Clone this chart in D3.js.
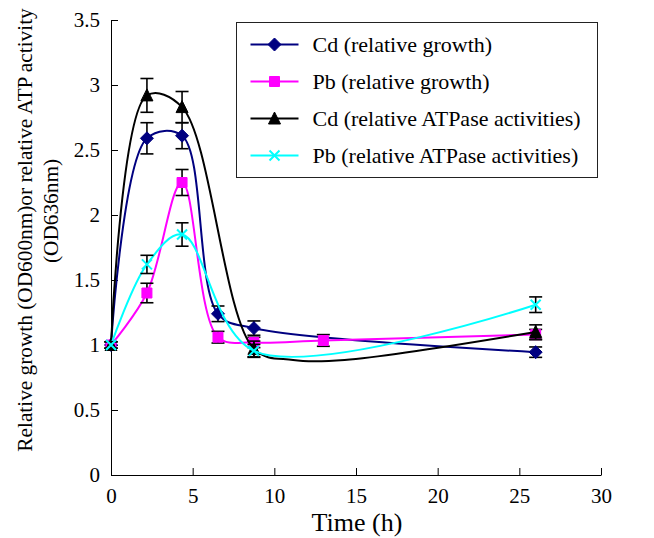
<!DOCTYPE html>
<html>
<head>
<meta charset="utf-8">
<script src="https://cdn.jsdelivr.net/npm/d3@7"></script>
<style>
  body { margin: 0; background: #fff; }
  svg { display: block; font-family: "Liberation Serif", "Times New Roman", serif; }
  .axis path, .axis line { stroke: #000; stroke-width: 1; }
  .axis text { font-size: 21px; fill: #000; font-family: "Liberation Serif", serif; }
</style>
</head>
<body>
<div id="viz"></div>
<script>
// values (time in axis units)
const cdGrowthTime = [0, 2.2, 4.35, 6.55, 8.75, 26];
const cdGrowth = [1.0, 2.59, 2.61, 1.24, 1.13, 0.945];
const cdGrowthErr = [0.025, 0.12, 0.1, 0.06, 0.055, 0.04];

const pbGrowthTime = [0, 2.2, 4.35, 6.55, 8.75, 13, 26];
const pbGrowth = [1.0, 1.4, 2.25, 1.06, 1.02, 1.035, 1.08];
const pbGrowthErr = [0.025, 0.075, 0.1, 0.045, 0.04, 0.045, 0.04];

// two unmarked bends of the black line (err null = no marker)
const cdAtpTime = [0, 2.2, 4.35, 8.75, 11.15, 14.3, 26];
const cdAtp = [1.0, 2.92, 2.83, 0.97, 0.885, 0.885, 1.1];
const cdAtpErr = [0.025, 0.13, 0.12, 0.06, null, null, 0.055];

const pbAtpTime = [0, 2.2, 4.35, 8.75, 26];
const pbAtp = [1.0, 1.62, 1.85, 0.955, 1.31];
const pbAtpErr = [0.025, 0.07, 0.09, 0.05, 0.06];

const xTicks = [0, 5, 10, 15, 20, 25, 30];
const yTicks = [0, 0.5, 1, 1.5, 2, 2.5, 3, 3.5];

const seriesNames = [
  "Cd (relative growth)",
  "Pb (relative growth)",
  "Cd (relative ATPase activities)",
  "Pb (relative ATPase activities)"
];

const W = 654, H = 538;
const svg = d3.select("#viz").append("svg").attr("width", W).attr("height", H);

const x = d3.scaleLinear().domain([0, 30]).range([111, 601]);
const y = d3.scaleLinear().domain([0, 3.5]).range([475, 20]);

const series = [
  { name: seriesNames[0], t: cdGrowthTime, v: cdGrowth, e: cdGrowthErr, color: "#000080", marker: "diamond" },
  { name: seriesNames[1], t: pbGrowthTime, v: pbGrowth, e: pbGrowthErr, color: "#ff00ff", marker: "square" },
  { name: seriesNames[2], t: cdAtpTime, v: cdAtp, e: cdAtpErr, color: "#000000", marker: "triangle" },
  { name: seriesNames[3], t: pbAtpTime, v: pbAtp, e: pbAtpErr, color: "#00ffff", marker: "cross" }
];

// axes
svg.append("g")
  .attr("class", "axis")
  .attr("transform", `translate(0,${y(0)})`)
  .call(d3.axisBottom(x).tickValues(xTicks).tickSizeInner(-7).tickSizeOuter(0).tickPadding(13).tickFormat(d => d))
  .attr("font-family", "Liberation Serif");

svg.append("g")
  .attr("class", "axis")
  .attr("transform", `translate(${x(0)},0)`)
  .call(d3.axisLeft(y).tickValues(yTicks).tickSizeInner(-7).tickSizeOuter(0).tickPadding(11).tickFormat(d => d))
  .attr("font-family", "Liberation Serif");

// axis titles
svg.append("text")
  .attr("x", (x(0) + x(30)) / 2 + 1)
  .attr("y", 531)
  .attr("text-anchor", "middle")
  .attr("font-size", 26)
  .text("Time (h)");

const yt = svg.append("g").attr("font-size", 21.3).attr("text-anchor", "middle");
yt.append("text")
  .attr("transform", "translate(32,230) rotate(-90)")
  .text("Relative growth (OD600nm)or relative ATP activity");
yt.append("text")
  .attr("transform", "translate(58,211) rotate(-90)")
  .text("(OD636nm)");

const line = d3.line()
  .x((d) => x(d.t))
  .y((d) => y(d.v))
  .curve(d3.curveCatmullRom.alpha(0.5));

function markerPath(type) {
  if (type === "diamond") return "M0,-6.5L6.5,0L0,6.5L-6.5,0Z";
  if (type === "square") return "M-5,-5H5V5H-5Z";
  if (type === "triangle") return "M0,-6.5L6,5.5H-6Z";
  return "M-5,-5L5,5M-5,5L5,-5";
}

function drawMarker(g, type, color) {
  const p = g.append("path").attr("d", markerPath(type));
  if (type === "cross") {
    p.attr("fill", "none").attr("stroke", color).attr("stroke-width", 2);
  } else {
    p.attr("fill", color).attr("stroke", color).attr("stroke-width", 1);
  }
}

const gPlot = svg.append("g");

series.forEach((s) => {
  const pts = s.t.map((t, i) => ({ t, v: s.v[i], e: s.e[i] }));
  const g = gPlot.append("g");

  g.append("path")
    .datum(pts)
    .attr("d", line)
    .attr("fill", "none")
    .attr("stroke", s.color)
    .attr("stroke-width", 2);

  const marked = pts.filter((d) => d.e !== null);

  const eb = g.selectAll("g.err").data(marked).enter().append("g")
    .attr("stroke", "#000").attr("stroke-width", 1.6);
  eb.append("line")
    .attr("x1", (d) => x(d.t)).attr("x2", (d) => x(d.t))
    .attr("y1", (d) => y(d.v + d.e)).attr("y2", (d) => y(d.v - d.e));
  eb.append("line")
    .attr("x1", (d) => x(d.t) - 6.5).attr("x2", (d) => x(d.t) + 6.5)
    .attr("y1", (d) => y(d.v + d.e)).attr("y2", (d) => y(d.v + d.e));
  eb.append("line")
    .attr("x1", (d) => x(d.t) - 6.5).attr("x2", (d) => x(d.t) + 6.5)
    .attr("y1", (d) => y(d.v - d.e)).attr("y2", (d) => y(d.v - d.e));

  marked.forEach((d) => {
    const m = g.append("g").attr("transform", `translate(${x(d.t)},${y(d.v)})`);
    drawMarker(m, s.marker, s.color);
  });
});

// legend
const lg = svg.append("g").attr("transform", "translate(236.5,22.5)");
lg.append("rect")
  .attr("width", 361)
  .attr("height", 155)
  .attr("fill", "#fff")
  .attr("stroke", "#222")
  .attr("stroke-width", 1);

series.forEach((s, i) => {
  const row = lg.append("g").attr("transform", `translate(0,${22 + i * 37})`);
  row.append("line")
    .attr("x1", 14).attr("x2", 62)
    .attr("stroke", s.color).attr("stroke-width", 2);
  const m = row.append("g").attr("transform", "translate(38,0)");
  drawMarker(m, s.marker, s.color);
  row.append("text")
    .attr("x", 76)
    .attr("y", 7)
    .attr("font-size", 22)
    .text(s.name);
});
</script>
</body>
</html>
